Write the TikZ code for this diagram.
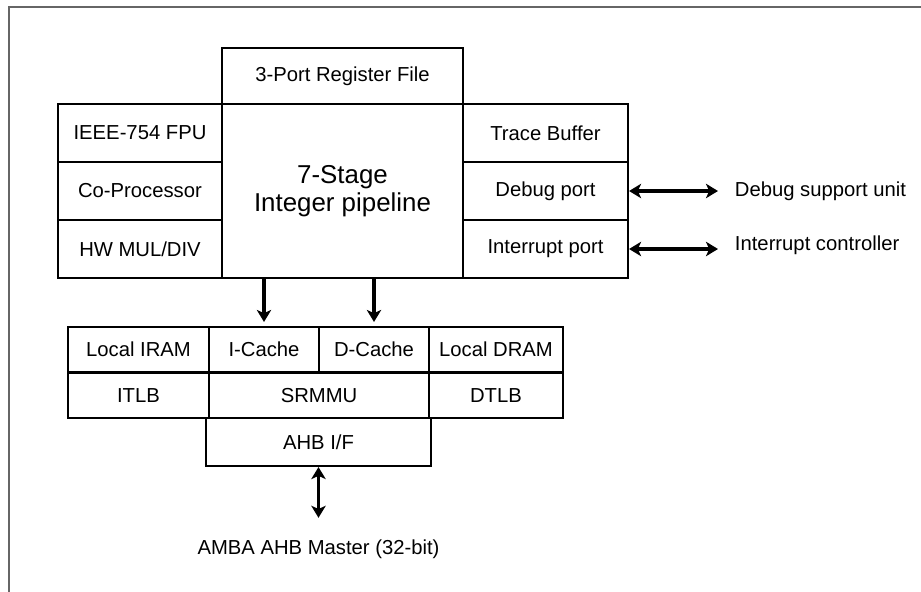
\documentclass[tikz,border=0pt]{standalone}
\usepackage{fontspec}
\setmainfont{Liberation Sans}
\usetikzlibrary{arrows.meta}
\begin{document}
\begin{tikzpicture}[
  x=0.025cm, y=-0.025cm,
  >={Stealth[length=0.3cm, width=0.36cm, inset=0.08cm]},
  box/.style={draw, line width=1.5pt, inner sep=0pt,
              align=center, font=\fontsize{14.4}{17}\selectfont},
  topbox/.style={box, minimum width=6.025cm, minimum height=1.4cm},
  core/.style={box, minimum width=6.025cm, minimum height=4.35cm,
               font=\fontsize{18.4}{20}\selectfont},
  lcol/.style={box, minimum width=4.1cm, minimum height=1.45cm},
  rcol/.style={box, minimum width=4.125cm, minimum height=1.45cm},
  sidebox/.style={box, minimum width=3.525cm, minimum height=1.1375cm},
  ramr/.style={box, minimum width=3.35cm, minimum height=1.1375cm},
  cache/.style={box, minimum width=2.75cm, minimum height=1.1375cm},
  lbl/.style={font=\fontsize{14.4}{17}\selectfont},
  arr/.style={->, line width=2.6pt},
  biarr/.style={<->, line width=2.6pt},
  frame/.style={draw=black!60, line width=1.5pt}
]
  \useasboundingbox (0,0) rectangle (921,592);
  \draw[frame] (9,592) -- (9,7) -- (921,7);

  % integer unit
  \node[topbox] (reg)   at (342.5, 76) {3-Port Register File};
  \node[core]   (pipe)  at (342.5,191) {7-Stage\\Integer pipeline};
  \node[lcol]   (fpu)   at (140,  133) {IEEE-754 FPU};
  \node[lcol]   (cop)   at (140,  191) {Co-Processor};
  \node[lcol]   (mul)   at (140,  249) {HW MUL/DIV};
  \node[rcol]   (trace) at (545.5,133) {Trace Buffer};
  \node[rcol]   (dbg)   at (545.5,191) {Debug port};
  \node[rcol]   (irq)   at (545.5,249) {Interrupt port};

  \node[lbl, anchor=west] (dsu) at (730,191) {Debug support unit};
  \node[lbl, anchor=west] (ic)  at (730,245) {Interrupt controller};
  \draw[biarr, shorten >=0.3cm] (dbg.east) -- (dsu.west);
  \draw[biarr, shorten >=0.3cm] (irq.east) -- (irq.east -| ic.west);

  % memory side
  \node[sidebox] (iram)   at (138.5,349.75) {Local IRAM};
  \node[sidebox] (itlb)   at (138.5,395.25) {ITLB};
  \node[cache]   (icache) at (264,  349.75) {I-Cache};
  \node[cache]   (dcache) at (374,  349.75) {D-Cache};
  \node[ramr]    (dram)   at (496,  349.75) {Local DRAM};
  \node[ramr]    (dtlb)   at (496,  395.25) {DTLB};
  \node[box, minimum width=5.5cm, minimum height=1.1375cm]
                 (srmmu)  at (319,  395.25) {SRMMU};
  \node[box, minimum width=5.625cm, minimum height=1.2cm]
                 (ahb)    at (318.5,442)    {AHB I/F};
  \draw[arr, shorten >=0.1cm] (pipe.south -| icache) -- (icache.north);
  \draw[arr, shorten >=0.1cm] (pipe.south -| dcache) -- (dcache.north);

  \node[lbl] (amba) at (318.5,549) {AMBA AHB Master (32-bit)};
  \draw[biarr, shorten >=0.42cm] (ahb.south) -- (amba.north);
\end{tikzpicture}
\end{document}
